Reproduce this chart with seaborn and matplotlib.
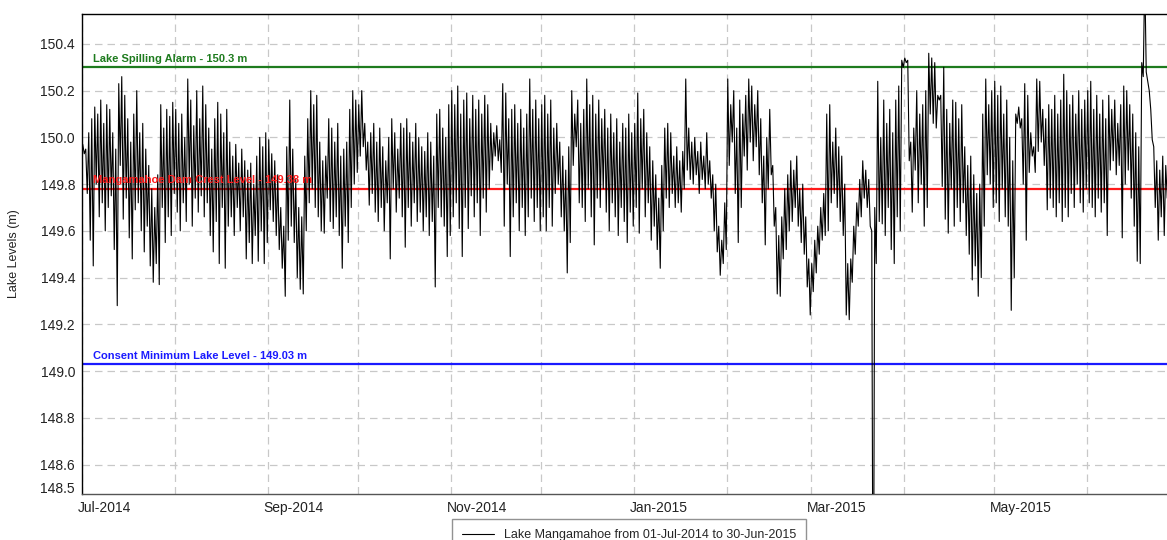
import pandas as pd
import numpy as np
import matplotlib
matplotlib.use("Agg")
import matplotlib.pyplot as plt
import matplotlib.transforms as mtransforms
import seaborn as sns

# =========================
# DATA  (daily high / low pairs, metres)
# =========================
jul_2014 = [
    149.97, 149.93, 149.95, 149.76, 150.02, 149.56, 150.08, 149.45, 150.13, 149.80,
    150.10, 149.66, 150.16, 149.72, 150.06, 149.60, 150.14, 149.70, 150.12, 149.75,
    150.02, 149.52, 149.95, 149.28, 150.23, 149.88, 150.26, 149.65, 150.18, 149.74,
    150.08, 149.57, 149.98, 149.48, 150.10, 149.69, 150.20, 149.72, 150.02, 149.60,
    150.06, 149.51, 149.95, 149.62, 149.88, 149.45, 149.78, 149.38, 149.70, 149.46,
    149.84, 149.37, 150.14, 149.70, 150.04, 149.55, 150.12, 149.66, 150.09, 149.58,
    150.15, 149.76,
]
aug_2014 = [
    150.12, 149.68, 150.06, 149.60, 150.10, 149.72, 150.00, 149.64, 150.25, 149.80,
    150.16, 149.62, 150.05, 149.74, 150.20, 149.68, 150.08, 149.75, 150.22, 149.66,
    150.14, 149.72, 150.04, 149.58, 149.95, 149.51, 150.08, 149.64, 150.15, 149.46,
    150.10, 149.70, 150.02, 149.44, 150.12, 149.62, 149.98, 149.66, 149.92, 149.58,
    149.97, 149.70, 149.89, 149.60, 149.95, 149.66, 149.90, 149.48, 149.86, 149.55,
    149.89, 149.46, 149.80, 149.58, 149.92, 149.47, 150.00, 149.60, 149.96, 149.46,
    150.02, 149.55,
]
sep_2014 = [
    149.99, 149.69, 149.93, 149.64, 149.90, 149.58, 149.84, 149.52, 149.70, 149.44,
    149.62, 149.32, 149.96, 149.56, 150.16, 149.62, 149.95, 149.55, 149.82, 149.40,
    149.70, 149.35, 149.66, 149.33, 149.92, 149.60, 150.08, 149.72, 150.20, 149.78,
    150.14, 149.70, 150.18, 149.66, 149.98, 149.60, 149.90, 149.59, 149.92, 149.74,
    150.08, 149.64, 150.04, 149.61, 149.98, 149.66, 150.06, 149.58, 149.92, 149.44,
    149.95, 149.62, 149.98, 149.55, 150.12, 149.70, 150.20, 149.80, 150.16, 149.85,
]
oct_2014 = [
    150.14, 149.92, 150.20, 149.96, 150.06, 149.86, 149.98, 149.71, 150.02, 149.76,
    150.06, 149.68, 149.98, 149.64, 150.04, 149.70, 149.96, 149.60, 149.90, 149.72,
    150.00, 149.48, 150.08, 149.78, 150.02, 149.68, 149.95, 149.74, 150.06, 149.66,
    150.04, 149.53, 150.08, 149.70, 150.02, 149.62, 149.98, 149.72, 150.06, 149.64,
    150.00, 149.68, 149.96, 149.60, 149.94, 149.66, 150.02, 149.58, 149.98, 149.64,
    149.92, 149.36, 150.10, 149.70, 150.12, 149.66, 150.04, 149.62, 150.00, 149.49,
    150.14, 149.58,
]
nov_2014 = [
    150.20, 149.66, 150.14, 149.72, 150.22, 149.61, 150.10, 149.49, 150.16, 149.70,
    150.19, 149.61, 150.08, 149.75, 150.18, 149.66, 150.12, 149.72, 150.16, 149.58,
    150.10, 149.74, 150.18, 149.68, 150.14, 149.78, 150.06, 149.86, 150.02, 149.92,
    150.05, 149.90, 149.99, 149.85, 150.23, 149.62, 150.19, 149.80, 150.08, 149.49,
    150.12, 149.66, 150.14, 149.72, 150.06, 149.60, 150.12, 149.70, 150.04, 149.58,
    150.10, 149.66, 150.25, 149.74, 150.12, 149.64, 150.16, 149.70, 150.08, 149.60,
]
dec_2014 = [
    150.14, 149.66, 150.18, 149.60, 150.10, 149.70, 150.16, 149.62, 150.04, 149.76,
    150.06, 149.80, 149.98, 149.66, 149.92, 149.60, 149.86, 149.42, 149.96, 149.55,
    150.20, 149.88, 150.10, 149.96, 150.16, 149.72, 150.06, 149.70, 150.12, 149.64,
    150.25, 149.78, 150.14, 149.66, 150.18, 149.54, 150.10, 149.74, 150.16, 149.70,
    150.08, 149.78, 150.12, 149.68, 150.04, 149.60, 150.10, 149.72, 150.02, 149.66,
    150.08, 149.58, 149.98, 149.70, 150.06, 149.64, 150.04, 149.55, 150.10, 149.68,
    150.02, 149.62,
]
jan_2015 = [
    150.06, 149.70, 150.19, 149.59, 150.08, 149.78, 150.12, 149.66, 150.02, 149.72,
    149.96, 149.56, 149.90, 149.62, 149.84, 149.52, 149.74, 149.44, 149.88, 149.60,
    150.04, 149.74, 150.06, 149.70, 150.02, 149.76, 149.92, 149.70, 149.96, 149.72,
    149.90, 149.68, 149.94, 149.78, 150.25, 149.86, 150.04, 149.82, 149.98, 149.80,
    150.00, 149.84, 149.94, 149.76, 149.98, 149.82, 149.92, 149.78, 150.02, 149.80,
    149.90, 149.74, 149.84, 149.60, 149.80, 149.51, 149.62, 149.41, 149.56, 149.46,
    149.72, 149.52,
]
feb_2015 = [
    150.25, 149.88, 150.14, 149.98, 150.20, 149.76, 150.04, 149.55, 150.16, 149.70,
    150.10, 149.92, 150.18, 149.86, 150.25, 149.98, 150.22, 149.90, 150.14, 149.96,
    150.20, 149.84, 150.08, 149.72, 149.92, 149.54, 150.00, 149.78, 150.12, 149.84,
    149.88, 149.62, 149.70, 149.33, 149.58, 149.32, 149.66, 149.48, 149.78, 149.52,
    149.84, 149.60, 149.90, 149.64, 149.86, 149.70, 149.92, 149.62, 149.78, 149.55,
    149.80, 149.50, 149.66, 149.36, 149.48, 149.24,
]
mar_2015 = [
    149.46, 149.34, 149.56, 149.42, 149.62, 149.50, 149.70, 149.56, 149.76, 149.58,
    150.10, 149.60, 150.14, 149.72, 149.98, 149.76, 150.04, 149.70, 149.96, 149.64,
    149.92, 149.58, 149.80, 149.24, 149.46, 149.22, 149.48, 149.38, 149.62, 149.50,
    149.72, 149.62, 149.82, 149.66, 149.90, 149.74, 149.86, 149.70, 149.82, 149.62,
    149.60, 147.50, 149.70, 149.46, 150.24, 149.64, 150.00, 149.63, 150.16, 149.58,
    150.06, 149.70, 150.12, 149.52, 150.02, 149.46, 150.16, 149.66, 150.22, 149.60,
    150.33, 150.30,
]
apr_2015 = [
    150.34, 150.32, 150.33, 149.90, 149.98, 149.68, 150.04, 149.86, 150.20, 149.72,
    150.10, 149.80, 150.14, 149.62, 150.20, 149.70, 150.36, 150.10, 150.34, 150.06,
    150.32, 150.04, 150.18, 150.16, 150.18, 149.79, 150.30, 149.65, 150.12, 149.59,
    150.06, 149.78, 150.16, 149.62, 150.15, 149.70, 150.08, 149.64, 150.14, 149.72,
    149.96, 149.58, 149.88, 149.50, 149.92, 149.39, 149.84, 149.45, 149.76, 149.32,
    149.80, 149.40, 150.10, 149.62, 150.25, 149.84, 150.14, 149.80, 150.20, 149.70,
]
may_2015 = [
    150.24, 149.72, 150.18, 149.64, 150.22, 149.78, 150.10, 149.66, 150.16, 149.62,
    150.00, 149.26, 149.90, 149.40, 150.10, 150.06, 150.13, 150.04, 150.08, 149.80,
    150.23, 149.56, 150.18, 149.85, 150.02, 149.92, 149.96, 149.85, 150.25, 149.94,
    150.24, 149.98, 150.12, 149.88, 150.08, 149.69, 150.14, 149.74, 150.12, 149.70,
    150.18, 149.66, 150.10, 149.72, 150.16, 149.64, 150.27, 149.70, 150.20, 149.66,
    150.14, 149.76, 150.18, 149.70, 150.10, 149.80, 150.20, 149.72, 150.12, 149.68,
    150.16, 149.78,
]
jun_2015 = [
    150.20, 149.72, 150.24, 149.70, 150.12, 149.66, 150.18, 149.74, 150.10, 149.68,
    150.16, 149.72, 150.08, 149.58, 150.18, 149.86, 150.12, 149.90, 150.16, 149.84,
    150.06, 149.88, 150.14, 149.57, 150.22, 149.80, 150.20, 149.86, 150.14, 149.74,
    150.10, 149.62, 150.02, 149.47, 149.96, 149.46, 150.32, 150.26, 150.70, 150.28,
    150.24, 150.20, 150.12, 149.99, 149.96, 149.70, 149.90, 149.56, 149.86, 149.66,
    149.92, 149.58, 149.88, 149.74, 150.06, 149.55, 149.94, 149.62, 149.90, 149.66,
]

month_starts = ["2014-07-01", "2014-08-01", "2014-09-01", "2014-10-01", "2014-11-01", "2014-12-01",
                "2015-01-01", "2015-02-01", "2015-03-01", "2015-04-01", "2015-05-01", "2015-06-01"]
month_values = [jul_2014, aug_2014, sep_2014, oct_2014, nov_2014, dec_2014,
                jan_2015, feb_2015, mar_2015, apr_2015, may_2015, jun_2015]

ref_levels = [150.3, 149.78, 149.03]
ref_labels = ["Lake Spilling Alarm - 150.3 m",
              "Mangamahoe Dam Crest Level - 149.38 m",
              "Consent Minimum Lake Level - 149.03 m"]
ref_colors = ["#1e7b1e", "#ff1a1a", "#1a1aff"]

y_ticks = [148.5, 148.6, 148.8, 149.0, 149.2, 149.4, 149.6, 149.8, 150.0, 150.2, 150.4]
series_label = "Lake Mangamahoe from 01-Jul-2014 to 30-Jun-2015"

# =========================
# BUILD FRAME
# =========================
frames = []
for start, vals in zip(month_starts, month_values):
    t = pd.date_range(pd.Timestamp(start) + pd.Timedelta(hours=6), periods=len(vals), freq="12h")
    frames.append(pd.DataFrame({"time": t, "level": vals}))
df = pd.concat(frames, ignore_index=True)

# =========================
# PLOT
# =========================
sns.set_style("white")
plt.rcParams["font.family"] = ["Liberation Sans", "DejaVu Sans"]

W, H = 1167, 540
fig = plt.figure(figsize=(W / 100, H / 100), dpi=100)
ax = fig.add_axes([82 / W, 1 - 494 / H, (W - 82) / W, (494 - 14) / H])

sns.lineplot(data=df, x="time", y="level", ax=ax, color="black", linewidth=0.8,
             label=series_label, zorder=3, estimator=None)

for lvl, col in zip(ref_levels, ref_colors):
    ax.axhline(lvl, color=col, linewidth=1.6, zorder=2)

trans = mtransforms.blended_transform_factory(ax.transAxes, ax.transData)
for lvl, txt, col in zip(ref_levels, ref_labels, ref_colors):
    ax.annotate(txt, xy=(11 / (W - 82), lvl), xycoords=trans, xytext=(0, 2.5),
                textcoords="offset points", color=col, fontsize=8.0,
                fontweight="bold", va="bottom", ha="left", zorder=4)

# axes ranges
x0 = pd.Timestamp("2014-07-01")
ax.set_xlim(x0, x0 + pd.Timedelta(days=361.67))
ax.set_ylim(148.474, 150.528)

# ticks
ticks = pd.to_datetime(month_starts)
ax.set_xticks(ticks)
ax.set_xticklabels([d.strftime("%b-%Y") if d.month % 2 == 1 else "" for d in ticks])
ax.set_yticks(y_ticks)
ax.set_yticklabels([f"{v:.1f}" for v in y_ticks])
ax.tick_params(length=0, labelsize=10, colors="#222222", pad=5)
offset = mtransforms.ScaledTranslation(-4.5 / 100, 0, fig.dpi_scale_trans)
for lbl in ax.get_xticklabels():
    lbl.set_ha("left")
    lbl.set_transform(lbl.get_transform() + offset)

# grid
ax.grid(True, color="#c8c8c8", linestyle=(0, (6, 4)), linewidth=0.9, zorder=0)
ax.get_ygridlines()[0].set_visible(False)

ax.set_xlabel("")
ax.set_ylabel("Lake Levels (m)", fontsize=9, color="#222222")
ax.yaxis.set_label_coords(-(82 - 20) / (W - 82), 0.5)

for side in ["top", "left"]:
    ax.spines[side].set_color("black")
    ax.spines[side].set_linewidth(1.0)
ax.spines["bottom"].set_color("#555555")
ax.spines["bottom"].set_linewidth(1.0)
ax.spines["right"].set_visible(False)

# legend
handles, labels = ax.get_legend_handles_labels()
ax.get_legend().remove()
fig.legend(handles, labels, loc="upper center", bbox_to_anchor=(629 / W, 1 - 519 / H),
           frameon=True, fancybox=False, edgecolor="#777777", fontsize=9,
           handlelength=2.5, borderpad=0.8, borderaxespad=0)

plt.savefig("out.png", dpi=100)
plt.close()
